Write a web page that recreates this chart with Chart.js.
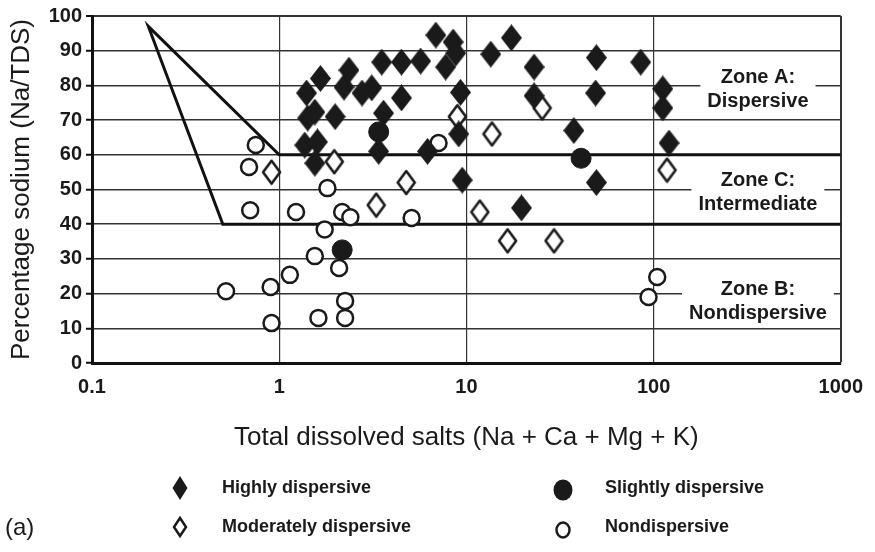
<!DOCTYPE html>
<html>
<head>
<meta charset="utf-8">
<script src="https://cdn.jsdelivr.net/npm/chart.js@4.4.0/dist/chart.umd.min.js"></script>
<style>
  html, body { margin: 0; padding: 0; background: #fff; }
</style>
</head>
<body>
<canvas id="sodiumChart" width="875" height="552"></canvas>
<script>
// Percentage sodium vs total dissolved salts (log x)
const xTicks = [0.1, 1, 10, 100, 1000];
const seriesNames = ['Highly dispersive', 'Moderately dispersive', 'Slightly dispersive', 'Nondispersive'];

const highlyX = [1.37, 1.6, 1.55, 1.42, 1.55, 1.4, 1.66, 1.99, 2.22, 2.36, 2.77, 3.12, 3.4, 3.61, 3.53, 4.5, 4.5, 5.7, 6.2, 6.87, 7.75, 8.5, 8.77, 9.3, 9.1, 9.5, 13.5, 17.4, 19.7, 23, 23, 37.5, 49.5, 49, 49.5, 85.4, 112, 112, 121];
const highlyY = [62.8, 63.7, 57.6, 70.6, 72.3, 77.8, 82, 71, 79.5, 84.4, 77.8, 79.3, 61, 72, 86.7, 86.7, 76.4, 87, 61, 94.5, 85.3, 92.5, 89.3, 78, 66, 52.7, 89, 93.7, 44.7, 85.3, 77, 67, 88, 77.8, 52, 86.7, 79, 73.5, 63.4];

const moderateX = [0.91, 1.97, 3.3, 4.77, 8.95, 11.8, 13.7, 16.6, 25.4, 29.4, 118];
const moderateY = [55, 58, 45.5, 52, 71, 43.5, 66, 35.2, 73.5, 35.2, 55.6];

const slightX = [2.17, 3.4, 41];
const slightY = [32.6, 66.6, 59];

const nonX = [0.75, 0.69, 0.7, 1.81, 1.23, 2.17, 2.4, 1.75, 1.55, 2.09, 1.14, 0.52, 0.9, 2.25, 0.91, 1.62, 2.25, 5.1, 7.1, 104.6, 94];
const nonY = [62.8, 56.5, 44, 50.4, 43.5, 43.5, 42, 38.5, 30.8, 27.4, 25.4, 20.7, 21.9, 17.9, 11.5, 13, 13, 41.8, 63.4, 24.8, 19];

// zone boundary polyline
const boundaryX = [1000, 1, 0.2, 0.5, 1000];
const boundaryY = [60, 60, 97, 40, 40];

const zoneLabels = [['Zone A:', 'Dispersive'], ['Zone C:', 'Intermediate'], ['Zone B:', 'Nondispersive']];

const INK = '#1a1a1a';
const FONT = '"Liberation Sans", Arial, Helvetica, sans-serif';
Chart.defaults.font.family = FONT;
Chart.defaults.color = INK;

function pts(xs, ys) { return xs.map((x, i) => ({ x: x, y: ys[i] })); }

function diamond(w, h, filled) {
  const c = document.createElement('canvas');
  c.width = w; c.height = h;
  const g = c.getContext('2d');
  const m = filled ? 0 : 2;
  g.beginPath();
  g.moveTo(w / 2, m); g.lineTo(w - m, h / 2); g.lineTo(w / 2, h - m); g.lineTo(m, h / 2);
  g.closePath();
  if (filled) { g.fillStyle = INK; g.fill(); }
  else { g.fillStyle = '#fff'; g.fill(); g.lineWidth = 2.6; g.lineJoin = 'round'; g.strokeStyle = INK; g.stroke(); }
  return c;
}
const filledDiamond = diamond(21, 27, true);
const openDiamond = diamond(21, 27, false);

// zone captions with white background
const zonePlugin = {
  id: 'zones',
  afterDatasetsDraw(chart) {
    const { ctx, scales: { x, y } } = chart;
    const anchors = [[361, 78.7], [361, 49], [361, 17.7]];
    ctx.save();
    ctx.font = 'bold 20px ' + FONT;
    ctx.textAlign = 'center';
    ctx.textBaseline = 'middle';
    zoneLabels.forEach((lines, i) => {
      const px = x.getPixelForValue(anchors[i][0]);
      const py = y.getPixelForValue(anchors[i][1]);
      const w = Math.max(...lines.map(t => ctx.measureText(t).width)) + 14;
      ctx.fillStyle = '#fff';
      ctx.fillRect(px - w / 2, py - 24, w, 48);
      ctx.fillStyle = INK;
      ctx.fillText(lines[0], px, py - 12);
      ctx.fillText(lines[1], px, py + 12);
    });
    ctx.restore();
  }
};

// 2x2 legend under the axis title, plus panel tag
const legendPlugin = {
  id: 'legend2x2',
  afterDraw(chart) {
    const ctx = chart.ctx;
    ctx.save();
    ctx.fillStyle = INK;
    ctx.strokeStyle = INK;
    // markers
    ctx.beginPath();
    ctx.moveTo(180, 476); ctx.lineTo(187.5, 488); ctx.lineTo(180, 500); ctx.lineTo(172.5, 488);
    ctx.closePath(); ctx.fill();
    ctx.beginPath();
    ctx.moveTo(180, 518); ctx.lineTo(186, 527); ctx.lineTo(180, 536); ctx.lineTo(174, 527);
    ctx.closePath(); ctx.lineWidth = 2.5; ctx.stroke();
    ctx.beginPath(); ctx.ellipse(563, 490, 9.5, 10.5, 0, 0, Math.PI * 2); ctx.fill();
    ctx.beginPath(); ctx.ellipse(563, 530, 6.5, 7.5, 0, 0, Math.PI * 2); ctx.lineWidth = 2.5; ctx.stroke();
    // texts
    ctx.font = 'bold 18px ' + FONT;
    ctx.textBaseline = 'middle';
    ctx.textAlign = 'left';
    ctx.fillText(seriesNames[0], 222, 488);
    ctx.fillText(seriesNames[1], 222, 527);
    ctx.fillText(seriesNames[2], 605, 488);
    ctx.fillText(seriesNames[3], 605, 527);
    ctx.font = '24px ' + FONT;
    ctx.fillText('(a)', 5, 528);
    ctx.restore();
  }
};

new Chart(document.getElementById('sodiumChart'), {
  type: 'scatter',
  data: {
    datasets: [
      { label: seriesNames[0], data: pts(highlyX, highlyY), pointStyle: filledDiamond },
      { label: seriesNames[1], data: pts(moderateX, moderateY), pointStyle: openDiamond },
      { label: seriesNames[2], data: pts(slightX, slightY), pointStyle: 'circle', pointRadius: 10,
        backgroundColor: INK, borderColor: INK, borderWidth: 1 },
      { label: seriesNames[3], data: pts(nonX, nonY), pointStyle: 'circle', pointRadius: 8,
        backgroundColor: '#fff', borderColor: INK, borderWidth: 2.5 },
      { label: 'boundary', data: pts(boundaryX, boundaryY), showLine: true, pointRadius: 0,
        borderColor: '#111', borderWidth: 3, tension: 0, order: 5 }
    ]
  },
  options: {
    responsive: false,
    animation: false,
    events: [],
    layout: { padding: { left: 0, right: 32, top: 16, bottom: 99 } },
    plugins: { legend: { display: false }, tooltip: { enabled: false } },
    scales: {
      x: {
        type: 'logarithmic',
        min: 0.1, max: 1000,
        afterBuildTicks: s => { s.ticks = xTicks.map(v => ({ value: v })); },
        afterFit: s => { s.height = 90; },
        ticks: { padding: 12, font: { size: 20, weight: 'bold' }, color: INK, maxRotation: 0,
          callback: v => String(v) },
        grid: { color: '#333', lineWidth: c => (c.tick && c.tick.value === 1000 ? 2 : 1.2), drawTicks: false },
        border: { display: true, color: '#111', width: 3 },
        title: { display: true, text: 'Total dissolved salts (Na + Ca + Mg + K)', color: INK,
          font: { size: 26 }, padding: { top: 23, bottom: 0 } }
      },
      y: {
        min: 0, max: 100,
        afterFit: s => { s.width = 92; },
        ticks: { stepSize: 10, padding: 4, font: { size: 20, weight: 'bold' }, color: INK },
        grid: { color: '#333', lineWidth: c => (c.tick && c.tick.value === 100 ? 2 : 1.5),
          drawTicks: true, tickLength: 6, tickColor: '#111', tickWidth: 2 },
        border: { display: true, color: '#111', width: 3 },
        title: { display: true, text: 'Percentage sodium (Na/TDS)', color: INK,
          font: { size: 26 }, padding: { top: 6, bottom: 11 } }
      }
    }
  },
  plugins: [zonePlugin, legendPlugin]
});
</script>
</body>
</html>
